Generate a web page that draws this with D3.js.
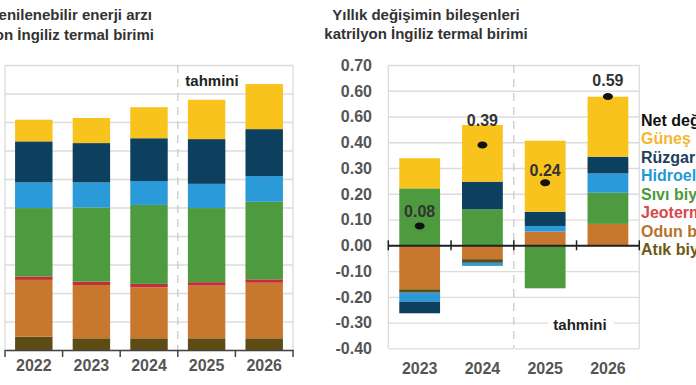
<!DOCTYPE html>
<html>
<head>
<meta charset="utf-8">
<script src="https://cdn.jsdelivr.net/npm/d3@7"></script>
<style>
  body { margin: 0; background: #fff; }
  svg { display: block; font-family: "Liberation Sans", Arial, sans-serif; }
</style>
</head>
<body>
<svg id="chart" width="696" height="385"></svg>
<script>
'use strict';

// ---- data ----
let years = ['2022', '2023', '2024', '2025', '2026'];
let changeYears = ['2023', '2024', '2025', '2026'];

// supply, quadrillion Btu (left panel)
let waste = [0.47, 0.41, 0.41, 0.41, 0.41];
let wood = [1.99, 1.87, 1.79, 1.85, 1.95];
let geothermal = [0.12, 0.12, 0.12, 0.12, 0.12];
let liquidBio = [2.40, 2.60, 2.77, 2.60, 2.72];
let hydro = [0.90, 0.88, 0.84, 0.85, 0.90];
let wind = [1.44, 1.38, 1.50, 1.57, 1.65];
let solar = [0.76, 0.88, 1.09, 1.38, 1.58];

// annual change components (right panel)
let dWood = [-0.171, -0.054, 0.053, 0.083];
let dWaste = [-0.013, -0.014, 0, 0];
let dGeothermal = [0, 0, 0, 0];
let dLiquidBio = [0.221, 0.140, -0.167, 0.121];
let dHydro = [-0.035, -0.012, 0.022, 0.075];
let dWind = [-0.045, 0.107, 0.055, 0.065];
let dSolar = [0.117, 0.220, 0.276, 0.233];
let netChange = [0.075, 0.389, 0.243, 0.578];
let netLabels = ['0.08', '0.39', '0.24', '0.59'];

let rightTicks = [0.7, 0.6, 0.5, 0.4, 0.3, 0.2, 0.1, 0, -0.1, -0.2, -0.3, -0.4];
let rightTickLabels = ['0.70', '0.60', '0.60', '0.40', '0.30', '0.20', '0.10', '0.00', '-0.10', '-0.20', '-0.30', '-0.40'];

let legendNames = ['Net değişim', 'Güneş', 'Rüzgar', 'Hidroelektrik', 'Sıvı biyoyakıtlar', 'Jeotermal', 'Odun biyokütle', 'Atık biyokütle'];
let legendColors = ['#111111', '#f4b731', '#1e3f5c', '#1f9ad6', '#4a9a3a', '#d9474b', '#b8722e', '#6b5a14'];

let colors = {
    waste: '#5e4b14',
    wood: '#c8782e',
    geothermal: '#c0303a',
    liquidBio: '#4e9a3e',
    hydro: '#2a9ad8',
    wind: '#0d3f5f',
    solar: '#f8c31c'
};

let svg = d3.select('#chart');
let gridColor = '#dcdcdc';
let labelColor = '#555';

// ================= left panel =================
let leftRows = years.map(function(y, i) {
    return {
        year: y, waste: waste[i], wood: wood[i], geothermal: geothermal[i],
        liquidBio: liquidBio[i], hydro: hydro[i], wind: wind[i], solar: solar[i]
    };
});
let leftKeys = ['waste', 'wood', 'geothermal', 'liquidBio', 'hydro', 'wind', 'solar'];

let xL = d3.scaleBand().domain(years).range([5, 293]).paddingInner(0.35).paddingOuter(0.175);
let yL = d3.scaleLinear().domain([0, 10]).range([350, 65]);

let gL = svg.append('g');

// grid
gL.append('g')
    .attr('transform', 'translate(5,0)')
    .call(d3.axisLeft(yL).ticks(10).tickSize(-288).tickFormat(''))
    .call(function(g) {
        g.select('.domain').remove();
        g.selectAll('line').attr('stroke', gridColor).attr('stroke-width', 1.3);
    });
gL.append('line').attr('x1', 5).attr('x2', 5).attr('y1', 65).attr('y2', 350)
    .attr('stroke', gridColor).attr('stroke-width', 1.3);
gL.append('line').attr('x1', 293).attr('x2', 293).attr('y1', 65).attr('y2', 350)
    .attr('stroke', gridColor).attr('stroke-width', 1.3);

// forecast divider
let splitL = xL('2025') - xL.step() * xL.paddingInner() / 2;
gL.append('line').attr('x1', splitL).attr('x2', splitL).attr('y1', 65).attr('y2', 350)
    .attr('stroke', '#c8c8c8').attr('stroke-width', 1.3).attr('stroke-dasharray', '8,6');

let stackL = d3.stack().keys(leftKeys)(leftRows);
gL.selectAll('g.series')
    .data(stackL)
    .enter().append('g')
    .attr('class', 'series')
    .attr('fill', function(d) { return colors[d.key]; })
    .selectAll('rect')
    .data(function(d) { return d; })
    .enter().append('rect')
    .attr('x', function(d) { return xL(d.data.year); })
    .attr('width', xL.bandwidth())
    .attr('y', function(d) { return yL(d[1]); })
    .attr('height', function(d) { return yL(d[0]) - yL(d[1]); });

// bottom axis
let xAxisL = gL.append('g')
    .attr('transform', 'translate(0,350)')
    .call(d3.axisBottom(xL).tickSize(0).tickPadding(10));
xAxisL.select('.domain').attr('stroke', '#444').attr('stroke-width', 1.5);
xAxisL.selectAll('text').attr('font-size', 16).attr('font-weight', 'bold').attr('fill', labelColor)
    .attr('font-family', '"Liberation Sans", Arial, sans-serif');
let boundsL = years.map(function(y) { return xL(y) - xL.step() * xL.paddingInner() / 2; }).slice(1);
boundsL = [5].concat(boundsL).concat([293]);
gL.selectAll('line.tickL').data(boundsL).enter().append('line')
    .attr('class', 'tickL')
    .attr('x1', function(d) { return d; }).attr('x2', function(d) { return d; })
    .attr('y1', 350).attr('y2', 357)
    .attr('stroke', '#444').attr('stroke-width', 1.5);

gL.append('text').attr('x', 212).attr('y', 86).attr('text-anchor', 'middle')
    .attr('font-size', 15).attr('font-weight', 'bold').attr('fill', '#222')
    .text('tahmini');

// titles
gL.append('text').attr('x', 152).attr('y', 20).attr('text-anchor', 'end')
    .attr('font-size', 15).attr('font-weight', 'bold').attr('fill', '#333')
    .text('Yenilenebilir enerji arzı');
gL.append('text').attr('x', 154).attr('y', 40).attr('text-anchor', 'end')
    .attr('font-size', 15).attr('font-weight', 'bold').attr('fill', '#333')
    .text('katrilyon İngiliz termal birimi');

// ================= right panel =================
let rightRows = changeYears.map(function(y, i) {
    return {
        year: y, wood: dWood[i], waste: dWaste[i], geothermal: dGeothermal[i],
        liquidBio: dLiquidBio[i], hydro: dHydro[i], wind: dWind[i], solar: dSolar[i]
    };
});
let rightKeys = ['wood', 'waste', 'geothermal', 'liquidBio', 'hydro', 'wind', 'solar'];

let xR = d3.scaleBand().domain(changeYears).range([388.3, 639.3]).paddingInner(0.35).paddingOuter(0.175);
let yR = d3.scaleLinear().domain([-0.4, 0.7]).range([348.3, 65]);

let gR = svg.append('g');

gR.append('g')
    .attr('transform', 'translate(388.3,0)')
    .call(d3.axisLeft(yR).tickValues(rightTicks).tickSize(-251).tickFormat(''))
    .call(function(g) {
        g.select('.domain').remove();
        g.selectAll('line').attr('stroke', gridColor).attr('stroke-width', 1.3);
    });
gR.append('line').attr('x1', 388.3).attr('x2', 388.3).attr('y1', 65).attr('y2', 348.3)
    .attr('stroke', gridColor).attr('stroke-width', 1.3);
gR.append('line').attr('x1', 639.3).attr('x2', 639.3).attr('y1', 65).attr('y2', 348.3)
    .attr('stroke', gridColor).attr('stroke-width', 1.3);

// y labels
gR.selectAll('text.ylab').data(rightTicks).enter().append('text')
    .attr('class', 'ylab')
    .attr('x', 372).attr('y', function(d) { return yR(d); })
    .attr('dy', '0.36em').attr('text-anchor', 'end')
    .attr('font-size', 16).attr('font-weight', 'bold').attr('fill', labelColor)
    .text(function(d, i) { return rightTickLabels[i]; });

let splitR = xR('2025') - xR.step() * xR.paddingInner() / 2;
gR.append('line').attr('x1', splitR).attr('x2', splitR).attr('y1', 65).attr('y2', 348.3)
    .attr('stroke', '#c8c8c8').attr('stroke-width', 1.3).attr('stroke-dasharray', '8,6');

let stackR = d3.stack().keys(rightKeys).offset(d3.stackOffsetDiverging)(rightRows);
gR.selectAll('g.series')
    .data(stackR)
    .enter().append('g')
    .attr('class', 'series')
    .attr('fill', function(d) { return colors[d.key]; })
    .selectAll('rect')
    .data(function(d) { return d; })
    .enter().append('rect')
    .attr('x', function(d) { return xR(d.data.year); })
    .attr('width', xR.bandwidth())
    .attr('y', function(d) { return yR(Math.max(d[0], d[1])); })
    .attr('height', function(d) { return Math.abs(yR(d[0]) - yR(d[1])); });

// zero axis
let xAxisR = gR.append('g')
    .attr('transform', 'translate(0,' + yR(0) + ')')
    .call(d3.axisBottom(xR).tickSize(0).tickFormat(''));
xAxisR.select('.domain').attr('stroke', '#222').attr('stroke-width', 2);
let boundsR = changeYears.map(function(y) { return xR(y) - xR.step() * xR.paddingInner() / 2; }).slice(1);
boundsR = [388.3].concat(boundsR).concat([639.3]);
gR.selectAll('line.tickR').data(boundsR).enter().append('line')
    .attr('class', 'tickR')
    .attr('x1', function(d) { return d; }).attr('x2', function(d) { return d; })
    .attr('y1', yR(0) - 5).attr('y2', yR(0) + 5)
    .attr('stroke', '#222').attr('stroke-width', 1.5);

// year labels
gR.selectAll('text.xlab').data(changeYears).enter().append('text')
    .attr('class', 'xlab')
    .attr('x', function(d) { return xR(d) + xR.bandwidth() / 2; })
    .attr('y', 374).attr('text-anchor', 'middle')
    .attr('font-size', 16).attr('font-weight', 'bold').attr('fill', labelColor)
    .text(function(d) { return d; });

// net change dots and labels
gR.selectAll('ellipse.net').data(changeYears).enter().append('ellipse')
    .attr('class', 'net')
    .attr('cx', function(d) { return xR(d) + xR.bandwidth() / 2; })
    .attr('cy', function(d, i) { return yR(netChange[i]); })
    .attr('rx', 5).attr('ry', 3.5).attr('fill', '#111');
let labelOffsets = [-15, -25, -12, -16];
gR.selectAll('text.netlab').data(changeYears).enter().append('text')
    .attr('class', 'netlab')
    .attr('x', function(d) { return xR(d) + xR.bandwidth() / 2; })
    .attr('y', function(d, i) { return yR(netChange[i]) + labelOffsets[i]; })
    .attr('dy', '0.36em').attr('text-anchor', 'middle')
    .attr('font-size', 16).attr('font-weight', 'bold').attr('fill', '#333')
    .text(function(d, i) { return netLabels[i]; });

// tahmini with white backing
gR.append('rect').attr('x', 548).attr('y', 315).attr('width', 66).attr('height', 20).attr('fill', '#fff');
gR.append('text').attr('x', 580).attr('y', 330).attr('text-anchor', 'middle')
    .attr('font-size', 15).attr('font-weight', 'bold').attr('fill', '#222')
    .text('tahmini');

// legend
gR.selectAll('text.leg').data(legendNames).enter().append('text')
    .attr('class', 'leg')
    .attr('x', 641).attr('y', function(d, i) { return 120 + i * 18.5; })
    .attr('dy', '0.36em')
    .attr('font-size', 16).attr('font-weight', 'bold')
    .attr('fill', function(d, i) { return legendColors[i]; })
    .text(function(d) { return d; });

// titles
gR.append('text').attr('x', 426).attr('y', 20).attr('text-anchor', 'middle')
    .attr('font-size', 15).attr('font-weight', 'bold').attr('fill', '#333')
    .text('Yıllık değişimin bileşenleri');
gR.append('text').attr('x', 426).attr('y', 39).attr('text-anchor', 'middle')
    .attr('font-size', 15).attr('font-weight', 'bold').attr('fill', '#333')
    .text('katrilyon İngiliz termal birimi');
</script>
</body>
</html>
